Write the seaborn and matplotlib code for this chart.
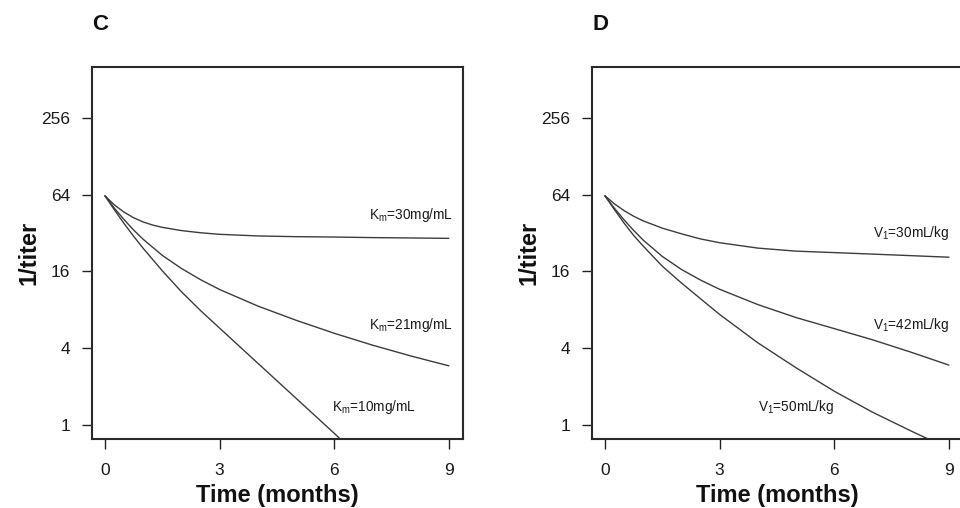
import matplotlib
matplotlib.use("Agg")
import matplotlib.pyplot as plt
import seaborn as sns
import pandas as pd

# ---- data ----
t_km30 = [0, 0.25, 0.5, 0.75, 1, 1.25, 1.5, 2, 2.5, 3, 4, 5, 6, 7, 8, 9]
km30 = [62.7, 53.1, 46.7, 42.2, 39.1, 37.0, 35.5, 33.5, 32.2, 31.3, 30.4, 30.0, 29.8, 29.5, 29.3, 29.1]

t_km21 = [0, 0.25, 0.5, 0.75, 1, 1.5, 2, 2.5, 3, 4, 5, 6, 7, 8, 9]
km21 = [62.7, 50.0, 40.8, 33.8, 28.6, 21.4, 16.9, 13.8, 11.55, 8.57, 6.63, 5.24, 4.23, 3.48, 2.91]

t_km10 = [0, 0.25, 0.5, 0.75, 1, 1.5, 2, 2.5, 3, 4, 5, 6, 6.15]
km10 = [62.7, 48.5, 38.0, 30.2, 24.3, 16.2, 11.1, 7.9, 5.75, 3.05, 1.62, 0.86, 0.78]

t_v30 = [0, 0.25, 0.5, 0.75, 1, 1.5, 2, 2.5, 3, 4, 5, 6, 7, 8, 9]
v30 = [62.7, 54.2, 48.0, 43.4, 39.9, 35.0, 31.6, 28.8, 26.9, 24.4, 23.1, 22.5, 21.9, 21.3, 20.7]

t_v42 = [0, 0.25, 0.5, 0.75, 1, 1.5, 2, 2.5, 3, 4, 5, 6, 7, 8, 9]
v42 = [62.7, 50.0, 40.6, 33.6, 28.2, 21.0, 16.6, 13.7, 11.6, 8.8, 6.96, 5.7, 4.66, 3.73, 2.95]

t_v50 = [0, 0.25, 0.5, 0.75, 1, 1.5, 2, 2.5, 3, 4, 5, 6, 7, 8, 8.44]
v50 = [62.7, 48.8, 38.3, 30.7, 25.3, 17.6, 13.0, 9.78, 7.36, 4.41, 2.81, 1.84, 1.26, 0.90, 0.78]

labels_c = [r"K$_\mathrm{m}$=30mg/mL", r"K$_\mathrm{m}$=21mg/mL", r"K$_\mathrm{m}$=10mg/mL"]
labels_d = [r"V$_\mathrm{1}$=30mL/kg", r"V$_\mathrm{1}$=42mL/kg", r"V$_\mathrm{1}$=50mL/kg"]
label_pos_c = [(8.02, 44.3), (8.02, 6.1), (7.03, 1.39)]
label_pos_d = [(8.02, 32.0), (8.02, 6.1), (5.0, 1.39)]

y_ticks = [1, 4, 16, 64, 256]
x_ticks = [0, 3, 6, 9]
panel_titles = ["C", "D"]

# ---- style ----
sns.set_style("white")
plt.rcParams["font.family"] = ["Liberation Sans", "DejaVu Sans"]
plt.rcParams["mathtext.fontset"] = "custom"
plt.rcParams["mathtext.rm"] = "Liberation Sans"
plt.rcParams["mathtext.it"] = "Liberation Sans:italic"
plt.rcParams["mathtext.bf"] = "Liberation Sans:bold"

fig = plt.figure(figsize=(9.6, 5.08), dpi=100)
fig.patch.set_facecolor("white")

ax_w = 371 / 960
ax_h = 372 / 508
ax_b = 1 - 439 / 508
axC = fig.add_axes([92 / 960, ax_b, ax_w, ax_h])
axD = fig.add_axes([592 / 960, ax_b, ax_w, ax_h])

line_col = "#3c3c3c"
panels = [
    (axC, [(t_km30, km30), (t_km21, km21), (t_km10, km10)], labels_c, label_pos_c, panel_titles[0], 100),
    (axD, [(t_v30, v30), (t_v42, v42), (t_v50, v50)], labels_d, label_pos_d, panel_titles[1], 600),
]

for ax, series, labs, poss, title, tx in panels:
    for tt, vv in series:
        df = pd.DataFrame({"time": tt, "titer": vv})
        sns.lineplot(data=df, x="time", y="titer", ax=ax, color=line_col,
                     linewidth=1.0, sort=False, estimator=None)
    ax.set_yscale("log", base=2)
    ax.set_xlim(-0.34, 9.37)
    ax.set_ylim(0.776, 643)
    ax.set_yticks(y_ticks)
    ax.set_yticklabels([str(v) for v in y_ticks])
    ax.minorticks_off()
    ax.set_xticks(x_ticks)
    ax.set_xticklabels([str(v) for v in x_ticks])
    ax.tick_params(axis="both", direction="out", length=7.5, width=1.0,
                   color="#222222", labelsize=12.5, labelcolor="#1a1a1a", pad=8)
    ax.tick_params(axis="x", pad=10, bottom=True)
    ax.tick_params(axis="y", left=True)
    for s in ax.spines.values():
        s.set_linewidth(1.5)
        s.set_color("#2a2a2a")
        s.set_visible(True)
    ax.set_xlabel("Time (months)", fontsize=17, fontweight="bold", labelpad=4,
                  color="#111111")
    ax.set_ylabel("1/titer", fontsize=17, fontweight="bold", labelpad=1,
                  color="#111111")
    for lab, (lx, ly) in zip(labs, poss):
        ax.text(lx, ly, lab, ha="center", va="center", fontsize=9.8, color="#1a1a1a")
    fig.text(tx / 960, 1 - 24 / 508, title, fontsize=16, fontweight="bold",
             ha="center", va="center", color="#111111")

fig.savefig("out.png", dpi=100, facecolor="white")
